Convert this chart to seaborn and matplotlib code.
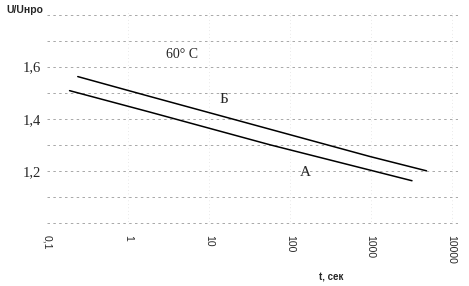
import matplotlib
matplotlib.use("Agg")
import matplotlib.pyplot as plt
import seaborn as sns
import pandas as pd
import numpy as np

# Data
t_A = [0.19, 1.9, 57, 3240]
u_A = [1.508, 1.425, 1.300, 1.162]
t_B = [0.24, 1.9, 980, 4900]
u_B = [1.562, 1.485, 1.255, 1.200]

x_ticks = [0.1, 1, 10, 100, 1000, 10000]
x_tick_labels = ["0,1", "1", "10", "100", "1000", "10000"]
y_ticks = [1.2, 1.4, 1.6]
y_tick_labels = ["1,2", "1,4", "1,6"]
y_grid = [1.0, 1.1, 1.2, 1.3, 1.4, 1.5, 1.6, 1.7, 1.8]

df = pd.concat([
    pd.DataFrame({"t": t_A, "u": u_A, "curve": "A"}),
    pd.DataFrame({"t": t_B, "u": u_B, "curve": "Б"}),
])

sns.set_style("white")
fig = plt.figure(figsize=(4.69, 2.86), dpi=100)
ax = fig.add_axes([47/469, 1-225/286, 411/469, 213/286])

sns.lineplot(data=df, x="t", y="u", hue="curve", palette={"A": "black", "Б": "black"},
             linewidth=1.1, legend=False, ax=ax, estimator=None, sort=False)

ax.set_xscale("log")
ax.set_xlim(0.1, 12000)
ax.set_ylim(0.992, 1.81)

for yg in y_grid:
    ax.axhline(yg, color="#9a9a9a", linewidth=0.6, linestyle=(0, (3, 4)), zorder=0)
for xg in x_ticks[1:]:
    ax.axvline(xg, color="#d5d5d5", linewidth=0.5, linestyle=(0, (1, 4)), zorder=0)

ax.set_xticks(x_ticks)
ax.set_xticklabels(x_tick_labels, rotation=-90, fontsize=7.5, family="Liberation Sans")
ax.xaxis.set_minor_locator(matplotlib.ticker.NullLocator())
ax.set_yticks(y_ticks)
ax.set_yticklabels(y_tick_labels, fontsize=10.5, family="Liberation Serif")
ax.tick_params(axis="both", length=0)
ax.tick_params(axis="y", pad=4)
ax.tick_params(axis="x", pad=7)
for s in ax.spines.values():
    s.set_visible(False)
ax.set_xlabel("")
ax.set_ylabel("")

ax.text(182/469, 1-55/286, "60° C", transform=fig.transFigure, fontsize=10,
        family="Liberation Serif", ha="center", va="center")
ax.text(224/469, 1-100/286, "Б", transform=fig.transFigure, fontsize=11,
        family="Liberation Serif", ha="center", va="center")
ax.text(305/469, 1-173/286, "A", transform=fig.transFigure, fontsize=11,
        family="Liberation Serif", ha="center", va="center")

fig.text(6/469, 1-10/286, "U/Uнро", fontsize=7.5, fontweight="bold",
         family="Liberation Sans", ha="left", va="center")
fig.text(331/469, 1-278/286, "t, сек", fontsize=7, fontweight="bold",
         family="Liberation Sans", ha="center", va="center")

fig.savefig("out.png", dpi=100)
